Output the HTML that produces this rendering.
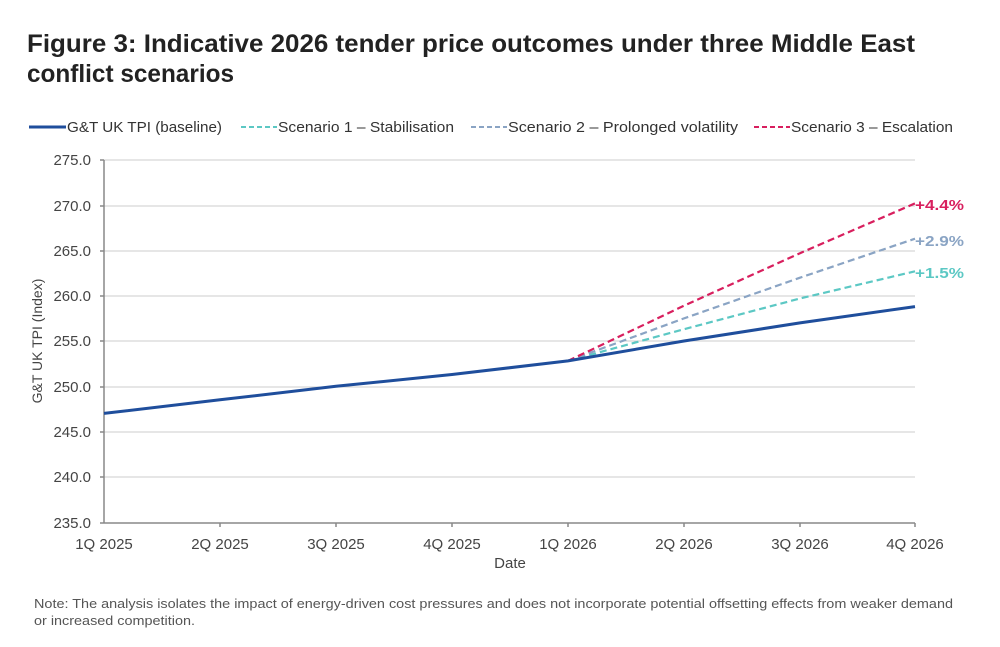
<!DOCTYPE html>
<html><head><meta charset="utf-8"><style>
body{margin:0;background:#fff;width:1000px;height:642px;overflow:hidden;font-family:"Liberation Sans",sans-serif;}
</style></head><body>
<svg width="1000" height="642" xmlns="http://www.w3.org/2000/svg" font-family="Liberation Sans, sans-serif">
<text x="27" y="52" font-size="25" font-weight="bold" fill="#222" textLength="888" lengthAdjust="spacingAndGlyphs">Figure 3: Indicative 2026 tender price outcomes under three Middle East</text>
<text x="27" y="82" font-size="25" font-weight="bold" fill="#222" textLength="207" lengthAdjust="spacingAndGlyphs">conflict scenarios</text>
<g font-size="15" fill="#333">
<line x1="29" y1="127" x2="66" y2="127" stroke="#1f4e9c" stroke-width="3"/>
<text x="67" y="132" textLength="155" lengthAdjust="spacingAndGlyphs">G&amp;T UK TPI (baseline)</text>
<line x1="241" y1="127" x2="277" y2="127" stroke="#5cc8c4" stroke-width="2" stroke-dasharray="5,3"/>
<text x="278" y="132" textLength="176" lengthAdjust="spacingAndGlyphs">Scenario 1 – Stabilisation</text>
<line x1="471" y1="127" x2="507" y2="127" stroke="#8aa4c4" stroke-width="2" stroke-dasharray="5,3"/>
<text x="508" y="132" textLength="230" lengthAdjust="spacingAndGlyphs">Scenario 2 – Prolonged volatility</text>
<line x1="754" y1="127" x2="790" y2="127" stroke="#d81f5e" stroke-width="2" stroke-dasharray="5,3"/>
<text x="791" y="132" textLength="162" lengthAdjust="spacingAndGlyphs">Scenario 3 – Escalation</text>
</g>
<g stroke="#ccc" stroke-width="1">
<line x1="104" y1="160" x2="915" y2="160"/><line x1="104" y1="206" x2="915" y2="206"/>
<line x1="104" y1="251" x2="915" y2="251"/><line x1="104" y1="296" x2="915" y2="296"/>
<line x1="104" y1="341" x2="915" y2="341"/><line x1="104" y1="387" x2="915" y2="387"/>
<line x1="104" y1="432" x2="915" y2="432"/><line x1="104" y1="477" x2="915" y2="477"/>
</g>
<g stroke="#888" stroke-width="1.5">
<line x1="104" y1="160" x2="104" y2="523"/><line x1="100" y1="523" x2="915" y2="523"/>
<line x1="100" y1="160" x2="104" y2="160"/><line x1="100" y1="206" x2="104" y2="206"/><line x1="100" y1="251" x2="104" y2="251"/><line x1="100" y1="296" x2="104" y2="296"/><line x1="100" y1="341" x2="104" y2="341"/><line x1="100" y1="387" x2="104" y2="387"/><line x1="100" y1="432" x2="104" y2="432"/><line x1="100" y1="477" x2="104" y2="477"/>
<line x1="220" y1="523" x2="220" y2="527"/><line x1="336" y1="523" x2="336" y2="527"/><line x1="452" y1="523" x2="452" y2="527"/><line x1="568" y1="523" x2="568" y2="527"/><line x1="684" y1="523" x2="684" y2="527"/><line x1="800" y1="523" x2="800" y2="527"/><line x1="915" y1="523" x2="915" y2="527"/>
</g>
<g font-size="15" fill="#444" text-anchor="end">
<text x="91" y="165">275.0</text><text x="91" y="211">270.0</text><text x="91" y="256">265.0</text><text x="91" y="301">260.0</text><text x="91" y="346">255.0</text><text x="91" y="392">250.0</text><text x="91" y="437">245.0</text><text x="91" y="482">240.0</text><text x="91" y="528">235.0</text>
</g>
<g font-size="15" fill="#444" text-anchor="middle">
<text x="104" y="549">1Q 2025</text><text x="220" y="549">2Q 2025</text><text x="336" y="549">3Q 2025</text><text x="452" y="549">4Q 2025</text><text x="568" y="549">1Q 2026</text><text x="684" y="549">2Q 2026</text><text x="800" y="549">3Q 2026</text><text x="915" y="549">4Q 2026</text>
<text x="510" y="568">Date</text>
</g>
<text transform="translate(42,341) rotate(-90)" font-size="14" fill="#444" text-anchor="middle">G&amp;T UK TPI (Index)</text>
<g fill="none" stroke-linejoin="round">
<polyline points="568,360.9 684,329.2 800,298.5 915,271.3" stroke="#5cc8c4" stroke-width="2.2" stroke-dasharray="7,4"/>
<polyline points="568,360.9 684,318.4 800,277.7 915,238.7" stroke="#8aa4c4" stroke-width="2.2" stroke-dasharray="7,4"/>
<polyline points="568,360.9 684,305.7 800,253.2 915,203.4" stroke="#d81f5e" stroke-width="2.2" stroke-dasharray="7,4"/>
<polyline points="104,413.4 220,399.8 336,386.3 452,374.5 568,360.9 684,341 800,322.9 915,306.6" stroke="#1f4e9c" stroke-width="3"/>
</g>
<g font-size="15" font-weight="bold" text-anchor="start">
<text x="915" y="210" fill="#d81f5e" textLength="49" lengthAdjust="spacingAndGlyphs">+4.4%</text>
<text x="915" y="246" fill="#8aa4c4" textLength="49" lengthAdjust="spacingAndGlyphs">+2.9%</text>
<text x="915" y="278" fill="#5cc8c4" textLength="49" lengthAdjust="spacingAndGlyphs">+1.5%</text>
</g>
<text x="34" y="608" font-size="13" fill="#555" textLength="919" lengthAdjust="spacingAndGlyphs">Note: The analysis isolates the impact of energy-driven cost pressures and does not incorporate potential offsetting effects from weaker demand</text>
<text x="34" y="625" font-size="13" fill="#555" textLength="161" lengthAdjust="spacingAndGlyphs">or increased competition.</text>
</svg>
</body></html>
